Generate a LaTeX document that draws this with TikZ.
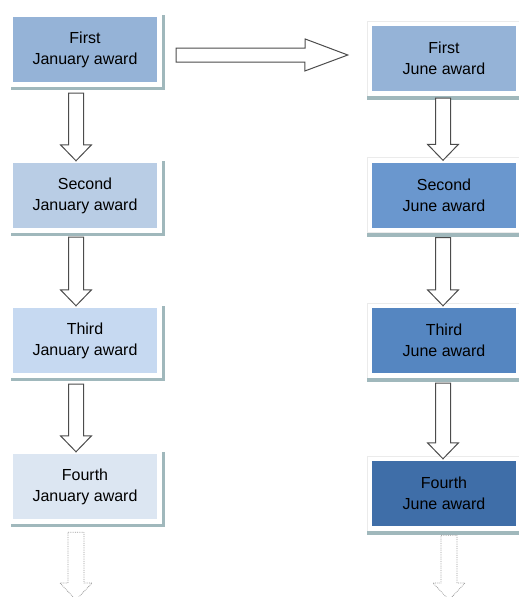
\documentclass[tikz,border=0pt]{standalone}
\usepackage{fontspec}
\setmainfont{Liberation Sans}
\usepackage{tikz}
\usetikzlibrary{calc}

\definecolor{janA}{HTML}{95B3D7}
\definecolor{janB}{HTML}{B9CDE5}
\definecolor{janC}{HTML}{C6D9F1}
\definecolor{janD}{HTML}{DCE6F2}
\definecolor{junA}{HTML}{95B3D7}
\definecolor{junB}{HTML}{6A97CE}
\definecolor{junC}{HTML}{5586C1}
\definecolor{junD}{HTML}{3F6EA8}
\definecolor{shadowcol}{HTML}{A0B8BC}

% block arrow pointing down: [style] x-shift, top gap, node from, node to
\newcommand{\blockdown}[5][]{%
  \draw[blockarrow,#1] ($(#4.south)+(#2-7.5,#3)$) -- ($(#4.south)+(#2+7.5,#3)$)
    -- ($(#5.north)+(#2+7.5,-18)$) -- ++(8,0) -- ($(#5.north)+(#2,-2)$)
    -- ($(#5.north)+(#2-15.5,-18)$) -- ++(8,0) -- cycle;}

\begin{document}
\begin{tikzpicture}[x=1pt,y=-1pt]
\tikzstyle{award} = [minimum width=144pt, minimum height=65pt, inner sep=0pt,
  align=center, font=\fontsize{16}{21}\selectfont]
\tikzstyle{blockarrow} = [draw=black!70, fill=white, line width=1pt, line join=miter]
\tikzstyle{faded} = [draw=black!40, densely dotted, line width=0.8pt]
\useasboundingbox (0,0) rectangle (519,597);

% January column
\foreach \i/\y/\c/\t in {1/49.5/janA/First, 2/195.5/janB/Second,
                         3/340.5/janC/Third, 4/486.5/janD/Fourth}{
  \fill[shadowcol] (11,\y-34.5) rectangle (165,\y+40.5);
  \fill[white] (8,\y-37.5) rectangle (162,\y+37.5);
  \node[award, fill=\c] (jan\i) at (85,\y) {\t\\January award};
}
% June column
\foreach \i/\y/\c/\t in {1/58.5/junA/First, 2/195/junB/Second,
                         3/340.5/junC/Third, 4/493.5/junD/Fourth}{
  \fill[white, draw=black!8] (367,\y-37.5) rectangle (521,\y+37.5);
  \fill[shadowcol] (367,\y+37.5) rectangle (521,\y+41.5);
  \node[award, fill=\c] (jun\i) at (444,\y) {\t\\June award};
}

\blockdown{-9}{11}{jan1}{jan2}
\blockdown{-9}{9}{jan2}{jan3}
\blockdown{-9}{11}{jan3}{jan4}
\blockdown{-1}{7}{jun1}{jun2}
\blockdown{-1}{10}{jun2}{jun3}
\blockdown{-1}{10}{jun3}{jun4}

% fading arrows at the bottom
\coordinate (janend) at (76,600);
\coordinate (junend) at (449,600);
\draw[faded] ($(jan4.south)+(-17,13)$) -- ++(16,0) |- ($(janend)+(16,-17)$)
  -- (janend) -- ($(janend)+(-16,-17)$) -| ($(jan4.south)+(-17,13)$);
\draw[faded] ($(jun4.south)+(-3,9)$) -- ++(16,0) |- ($(junend)+(16,-17)$)
  -- (junend) -- ($(junend)+(-16,-17)$) -| ($(jun4.south)+(-3,9)$);

% from January to June
\draw[blockarrow] ($(jan1.east)+(19,-1.5)$) -- ++(129,0) -- ++(0,-9)
  -- ($(jun1.west)+(-24,-3.5)$) -- ++(-43,16) -- ++(0,-9)
  -- ($(jan1.east)+(19,12.5)$) -- cycle;
\end{tikzpicture}
\end{document}
